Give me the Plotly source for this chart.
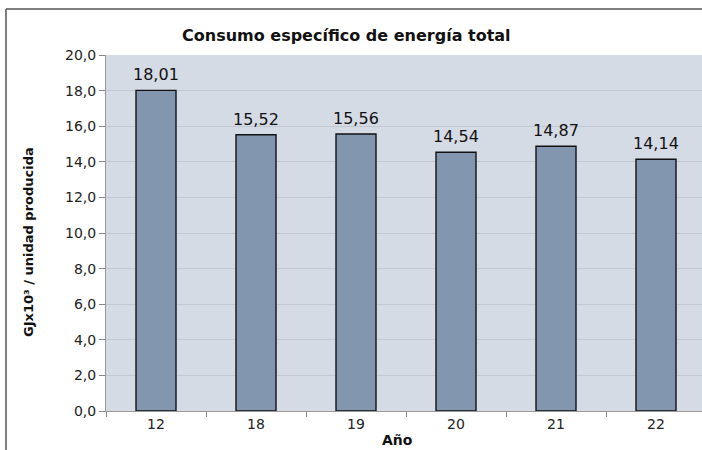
import plotly.graph_objects as go

categories = ["12", "18", "19", "20", "21", "22"]
values = [18.01, 15.52, 15.56, 14.54, 14.87, 14.14]
y_ticks = [0, 2, 4, 6, 8, 10, 12, 14, 16, 18, 20]

W, H = 702, 450
L, R, T, B = 106, 0, 55, 39
pw, ph = W - L - R, H - T - B

def px(x):
    return (x - L) / pw

def py(y):
    return (H - B - y) / ph

fig = go.Figure()
fig.add_trace(go.Bar(
    x=categories, y=values, width=0.4,
    marker=dict(color="#8396B0", line=dict(color="#111111", width=1.4)),
    hoverinfo="x+y",
))

label_annotations = [
    dict(x=i, y=v, xref="x", yref="y", text=f"{v:.2f}".replace(".", ","),
         showarrow=False, xanchor="center", yanchor="bottom", yshift=4,
         font=dict(family="DejaVu Sans", size=16, color="#111111"))
    for i, v in enumerate(values)
]

fig.update_layout(
    width=W, height=H,
    margin=dict(l=L, r=R, t=T, b=B, pad=0),
    paper_bgcolor="white", plot_bgcolor="#D5DBE5",
    separators=",.",
    showlegend=False,
    font=dict(family="DejaVu Sans", color="#111111"),
    xaxis=dict(
        type="category", range=[-0.5, 5.46],
        tickson="boundaries", ticks="outside", ticklen=5, tickcolor="#888888",
        showline=True, linecolor="#999999", linewidth=1,
        showgrid=False,
        tickfont=dict(family="DejaVu Sans", size=14, color="#222222"),
    ),
    yaxis=dict(
        range=[0, 20], tickvals=y_ticks, tickformat=".1f",
        ticks="outside", ticklen=6, tickcolor="#888888",
        showline=True, linecolor="#999999", linewidth=1,
        showgrid=True, gridcolor="#C2C8D2", gridwidth=1,
        zeroline=False,
        tickfont=dict(family="DejaVu Sans", size=14, color="#222222"),
    ),
    annotations=label_annotations + [
        dict(text="<b>Consumo específico de energía total</b>", x=px(346), y=py(35),
             xref="paper", yref="paper", showarrow=False, xanchor="center", yanchor="middle",
             font=dict(family="DejaVu Sans", size=16, color="#111111")),
        dict(text="<b>GJx10³ / unidad producida</b>", x=px(28), y=py(242),
             xref="paper", yref="paper", showarrow=False, xanchor="center", yanchor="middle",
             textangle=-90, font=dict(family="DejaVu Sans", size=13, color="#111111")),
        dict(text="<b>Año</b>", x=px(397), y=py(440),
             xref="paper", yref="paper", showarrow=False, xanchor="center", yanchor="middle",
             font=dict(family="DejaVu Sans", size=14, color="#111111")),
    ],
    shapes=[
        dict(type="line", xref="paper", yref="paper", x0=px(6), x1=px(702), y0=py(9), y1=py(9),
             line=dict(color="#555555", width=1.5)),
        dict(type="line", xref="paper", yref="paper", x0=px(6), x1=px(6), y0=py(9), y1=py(450),
             line=dict(color="#555555", width=1.5)),
    ],
)

fig.write_html("out.html", config={"displayModeBar": False},
               post_script="document.body.style.margin='0';document.body.style.overflow='hidden';")
